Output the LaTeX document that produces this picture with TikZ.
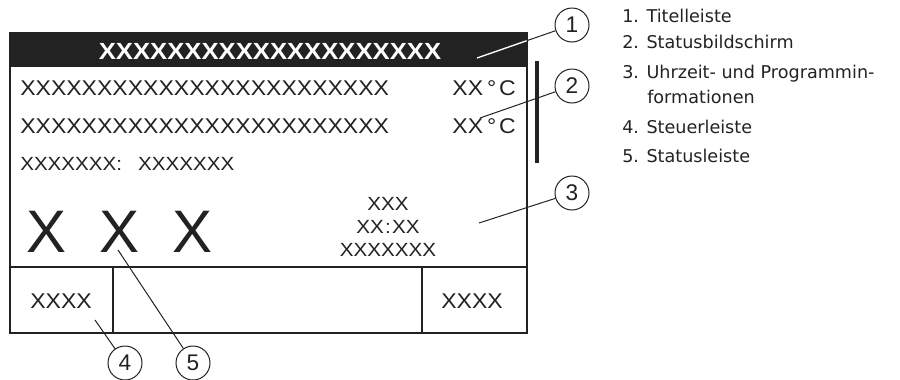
\documentclass[tikz,border=0pt]{standalone}
\usepackage{fontspec}
\usepackage{tikz}
\newfontfamily\scrfont[FakeStretch=1.08]{Liberation Sans}
\newfontfamily\titlefont[FakeStretch=1.1]{Liberation Sans}
\newfontfamily\bigfont{Liberation Sans}
\newfontfamily\legfont{DejaVu Sans}
\definecolor{ink}{HTML}{222222}

\begin{document}
\begin{tikzpicture}[x=0.75pt,y=-0.75pt,
    scr/.style={text=ink, inner sep=0pt, font=\scrfont\fontsize{16}{18}\selectfont},
    small/.style={text=ink, inner sep=0pt, font=\scrfont\fontsize{14.3}{16}\selectfont},
    callout/.style={circle, draw=ink, line width=0.75pt, inner sep=0pt, minimum size=25.5pt, text=ink, font=\bigfont\fontsize{17}{19}\selectfont},
    leader/.style={draw=ink, line width=0.75pt},
    legend/.style={anchor=base west, inner sep=0pt, text=ink, font=\legfont\fontsize{13.2}{15}\selectfont}]
                \useasboundingbox (0,0) rectangle (900,379);
                \fill[ink] (9.5,33) rectangle (526.5,67);
                \draw[ink, line width=1.5pt] (9.5,33) rectangle (526.5,333);
                \draw[ink, line width=1.5pt] (9.5,267)--(526.5,267);
                \draw[ink, line width=1.5pt] (113,267)--(113,333);
                \draw[ink, line width=1.5pt] (422,267)--(422,333);
                \draw[ink, line width=2.5pt] (537,61)--(537,163);
                \node[anchor=base, inner sep=0pt, text=white, font=\titlefont\bfseries\fontsize{17.5}{19}\selectfont] (title) at (270,59) {XXXXXXXXXXXXXXXXXXXX};
                \node[scr, anchor=base west] (row1) at (20,95) {XXXXXXXXXXXXXXXXXXXXXXXX};
                \node[scr, anchor=base east] (temp1) at (516,95) {XX\kern3pt°\kern2pt C};
                \node[scr, anchor=base west] (row2) at (20,133) {XXXXXXXXXXXXXXXXXXXXXXXX};
                \node[scr, anchor=base east] (temp2) at (516,133) {XX\kern3pt°\kern2pt C};
                \node[small, anchor=base west] (row3) at (20,170) {XXXXXXX:\hspace{12pt}XXXXXXX};
                \node[anchor=base, inner sep=0pt, text=ink, font=\bigfont\fontsize{45}{50}\selectfont] (bigx1) at (47,252) {X};
                \node[anchor=base, inner sep=0pt, text=ink, font=\bigfont\fontsize{45}{50}\selectfont] (bigx2) at (120,252) {X};
                \node[anchor=base, inner sep=0pt, text=ink, font=\bigfont\fontsize{45}{50}\selectfont] (bigx3) at (193,252) {X};
                \node[small, anchor=base] (time1) at (388,210) {XXX};
                \node[small, anchor=base] (time2) at (388,233) {XX\kern1pt:\kern1pt XX};
                \node[small, anchor=base] (time3) at (388,256) {XXXXXXX};
                \node[scr, anchor=base] (keyl) at (61,308) {XXXX};
                \node[scr, anchor=base] (keyr) at (472,308) {XXXX};
                \node[callout] (c1) at (572,25) {1};
                \node[callout] (c2) at (572,86) {2};
                \node[callout] (c3) at (572,193) {3};
                \node[callout] (c4) at (125,363) {4};
                \node[callout] (c5) at (193,363) {5};
                \coordinate (l1) at (477,58);
                \coordinate (l2) at (480,118);
                \coordinate (l3) at (479,223);
                \coordinate (l4) at (95,320);
                \coordinate (l5) at (118,250);
                \draw[leader] (l1)--(c1);
                \begin{scope}
                \clip (9.5,33) rectangle (526.5,67);
                \draw[white, line width=1pt] (l1)--(c1);
                \end{scope}
                \draw[leader] (l2)--(c2);
                \draw[leader] (l3)--(c3);
                \draw[leader] (l4)--(c4);
                \draw[leader] (l5)--(c5);
                \node[legend] (leg1) at (622,22) {1. Titelleiste};
                \node[legend] (leg2) at (622,48) {2. Statusbildschirm};
                \node[legend] (leg3) at (622,78) {3. Uhrzeit- und Programmin-};
                \node[legend] (leg3b) at (647,103) {formationen};
                \node[legend] (leg4) at (622,133) {4. Steuerleiste};
                \node[legend] (leg5) at (622,162) {5. Statusleiste};
            \end{tikzpicture}
\end{document}
